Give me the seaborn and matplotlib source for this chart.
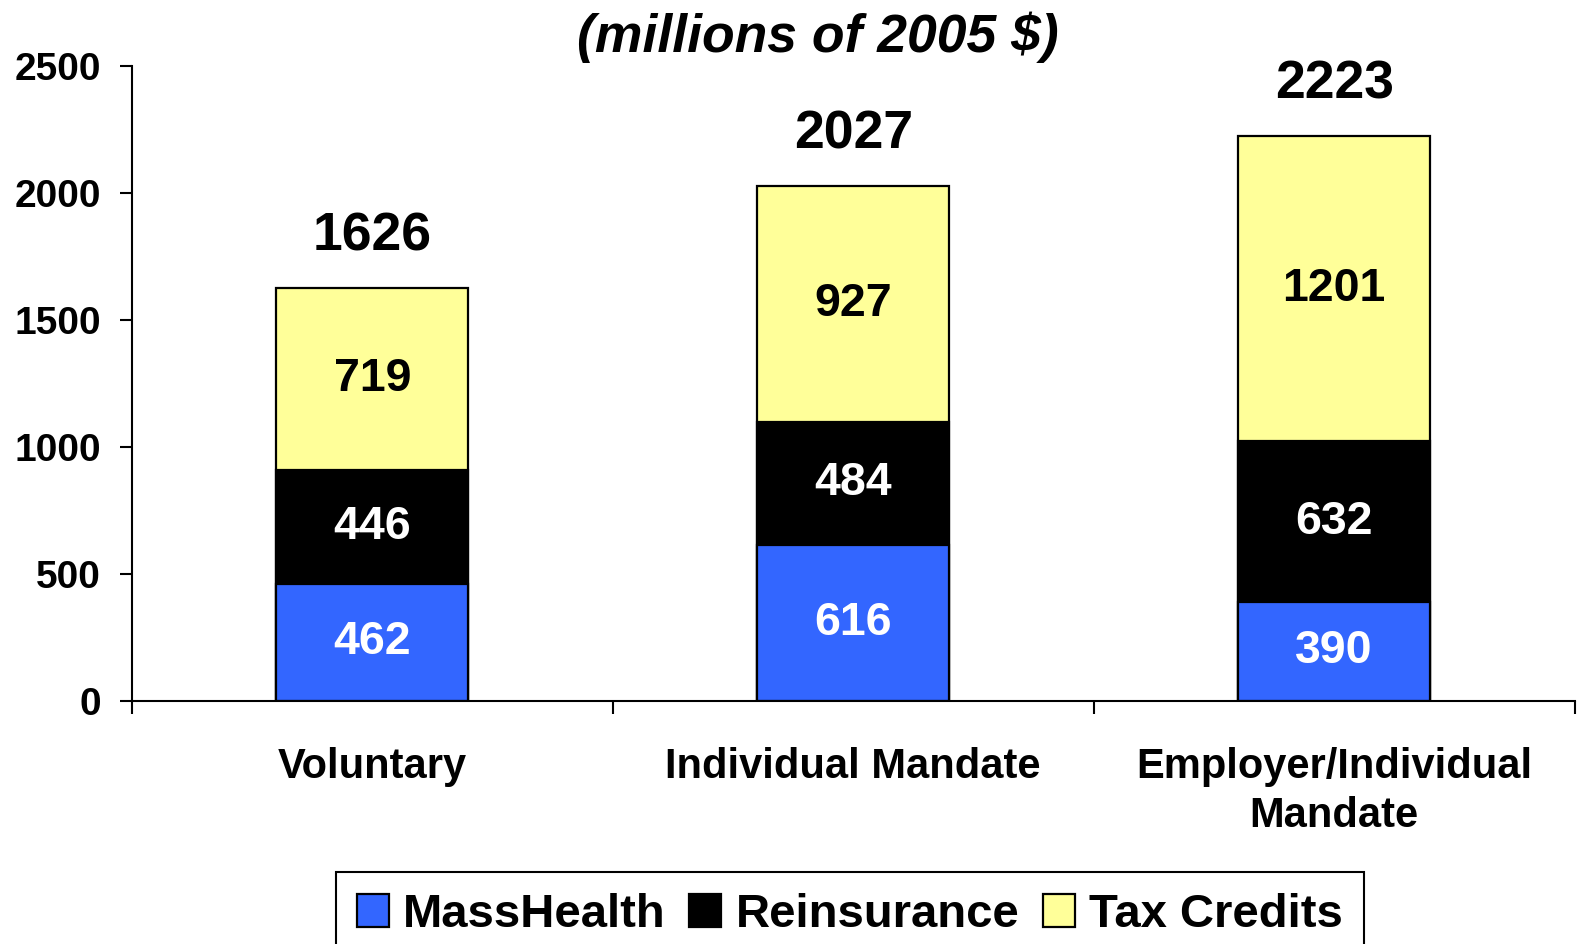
import matplotlib
matplotlib.use("Agg")
import matplotlib.pyplot as plt
from matplotlib.ticker import FixedLocator
import numpy as np
import pandas as pd
import seaborn as sns

# Cost components by coverage scenario (millions of 2005 $)
scenarios = ["Voluntary", "Individual Mandate", "Employer/Individual\nMandate"]
masshealth = [462, 616, 390]
reinsurance = [446, 484, 632]
tax_credits = [719, 927, 1201]
totals = [1626, 2027, 2223]

series_names = ["MassHealth", "Reinsurance", "Tax Credits"]
series_colors = ["#3366FF", "#000000", "#FFFF99"]
label_colors = ["white", "white", "black"]

sns.set_theme(style="white")
plt.rcParams["font.family"] = ["Liberation Sans", "DejaVu Sans"]
plt.rcParams["font.weight"] = "bold"

df = pd.DataFrame({
    "scenario": scenarios,
    "MassHealth": masshealth,
    "Reinsurance": reinsurance,
    "Tax Credits": tax_credits,
    "total": totals,
})
df["upto_reins"] = df["MassHealth"] + df["Reinsurance"]

fig = plt.figure(figsize=(15.78, 9.44), dpi=100)
ax = fig.add_axes([0.0835, 0.2574, 0.9144, 0.6727])

# Layered bars: full stack first, then each lower cumulative level over it
layers = [("total", "Tax Credits", series_colors[2]),
          ("upto_reins", "Reinsurance", series_colors[1]),
          ("MassHealth", "MassHealth", series_colors[0])]
for col, name, color in layers:
    sns.barplot(data=df, x="scenario", y=col, color=color, width=0.4,
                edgecolor="black", linewidth=1.6, saturation=1,
                label=name, ax=ax)

handles, labels = ax.get_legend_handles_labels()
if ax.get_legend() is not None:
    ax.get_legend().remove()

# Segment value labels
seg_vals = [masshealth, reinsurance, tax_credits]
for i in range(len(scenarios)):
    base = 0
    for s, vals in enumerate(seg_vals):
        ax.text(i, base + vals[i] / 2, str(vals[i]), ha="center", va="center",
                fontsize=33.5, fontweight="bold", color=label_colors[s])
        base += vals[i]
    ax.annotate(str(totals[i]), xy=(i, totals[i]), xytext=(0, 27),
                textcoords="offset points", ha="center", va="baseline",
                fontsize=38.5, fontweight="bold", color="black")

ax.set_ylim(0, 2500)
ax.set_yticks(np.arange(0, 2501, 500))
ax.set_xlim(-0.5, len(scenarios) - 0.5)
ax.set_xlabel("")
ax.set_ylabel("")

for side in ["top", "right"]:
    ax.spines[side].set_visible(False)
for side in ["left", "bottom"]:
    ax.spines[side].set_color("black")
    ax.spines[side].set_linewidth(1.5)

ax.tick_params(axis="y", which="major", direction="out", length=9, width=1.5,
               color="black", labelsize=28, pad=13, left=True)
ax.tick_params(axis="x", which="major", length=0, labelsize=30, pad=33)
ax.xaxis.set_minor_locator(FixedLocator(np.arange(-0.5, len(scenarios), 1.0)))
ax.tick_params(axis="x", which="minor", direction="out", length=9, width=1.5,
               color="black", bottom=True)
for lbl in ax.get_xticklabels() + ax.get_yticklabels():
    lbl.set_fontweight("bold")
    lbl.set_color("black")
for lbl in ax.get_xticklabels():
    lbl.set_linespacing(1.3)

fig.text(0.518, 1 - 52 / 944, "(millions of 2005 $)", ha="center", va="baseline",
         fontsize=38.5, fontweight="bold", fontstyle="italic", color="black")

order = [labels.index(n) for n in series_names]
leg = fig.legend([handles[k] for k in order], [labels[k] for k in order],
                 loc="upper center", bbox_to_anchor=(850 / 1578, 1 - 872 / 944),
                 ncol=3, fontsize=34, frameon=True, fancybox=False,
                 edgecolor="black", framealpha=1, borderpad=0.45,
                 handlelength=0.68, handleheight=0.68, handletextpad=0.3,
                 columnspacing=0.5, borderaxespad=0)
leg.get_frame().set_linewidth(1.5)
for t in leg.get_texts():
    t.set_fontweight("bold")
    t.set_color("black")

fig.savefig("out.png", dpi=100)
